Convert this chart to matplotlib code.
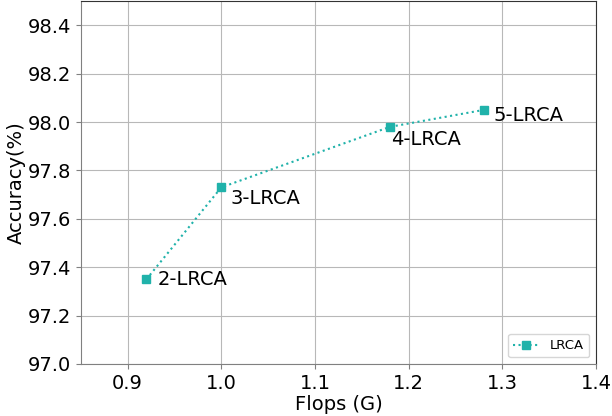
import matplotlib
matplotlib.use("Agg")
import matplotlib.pyplot as plt

flops = [0.92, 1.0, 1.18, 1.28]
accuracy = [97.35, 97.73, 97.98, 98.05]
names = ["2-LRCA", "3-LRCA", "4-LRCA", "5-LRCA"]

fig, ax = plt.subplots(figsize=(6.12, 4.16), dpi=100)
ax.plot(flops, accuracy, ls=':', marker='s', color='lightseagreen', markersize=5.5, label='LRCA')

# label placement: offsets in points
offsets = [(8, 0), (6.5, -8), (0.5, -9), (7, -4)]
for x, y, n, off in zip(flops, accuracy, names, offsets):
    ax.annotate(n, xy=(x, y), xytext=off, textcoords='offset points', fontsize=14, va='center')

ax.set_xlim(0.85, 1.4)
ax.set_ylim(97.0, 98.5)
ax.set_yticks([97.0, 97.2, 97.4, 97.6, 97.8, 98.0, 98.2, 98.4])
ax.grid(True, color='#b8b8b8', lw=0.8)
ax.tick_params(labelsize=14, color='#808080')
for s in ['left', 'bottom']:
    ax.spines[s].set_color('#808080')
for s in ['top', 'right']:
    ax.spines[s].set_color('#333333')
ax.set_xlabel('Flops (G)', fontsize=14, labelpad=2)
ax.set_ylabel('Accuracy(%)', fontsize=14, labelpad=1)
ax.legend(loc='lower right', fontsize=9.5)
fig.subplots_adjust(left=0.132, right=0.974, top=0.9975, bottom=0.125)
fig.savefig('out.png')
